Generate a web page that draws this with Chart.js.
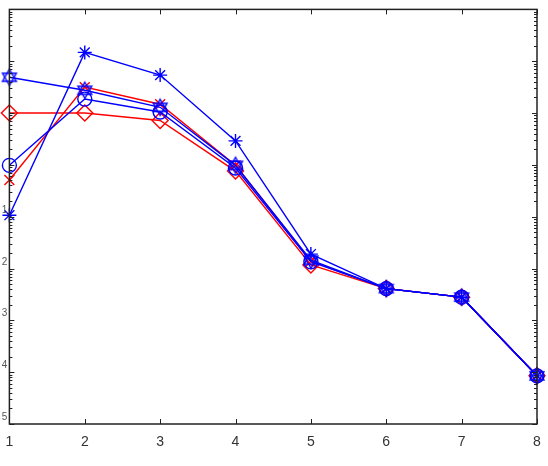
<!DOCTYPE html>
<html>
<head>
<meta charset="utf-8">
<script src="https://cdn.jsdelivr.net/npm/chart.js@4.4.0/dist/chart.umd.min.js"></script>
<style>
  html, body { margin: 0; padding: 0; background: #fff; }
  #wrap { width: 548px; height: 466px; }
</style>
</head>
<body>
<div id="wrap"><canvas id="chart" width="548" height="466"></canvas></div>
<script>
// === Données ===
const xLabels = [1, 2, 3, 4, 5, 6, 7, 8];
const starBlue = [0.107, 148, 54, 2.9, 0.019, 0.0041, 0.0028, 0.000085];
const hexBlue = [49, 27.5, 12.9, 0.98, 0.0145, 0.0041, 0.0028, 0.000085];
const circleBlue = [0.98, 18.6, 10.5, 0.87, 0.0135, 0.0041, 0.0028, 0.000085];
const crossRed = [0.51, 31.6, 14.8, 0.98, 0.0138, 0.0041, 0.0028, 0.000085];
const diamondRed = [10, 10, 7.2, 0.76, 0.0117, 0.0041, 0.0028, 0.000085];
const yExponents = [-5, -4, -3, -2, -1, 0, 1, 2, 3];
const yTickText = { "-1": "1", "-2": "2", "-3": "3", "-4": "4", "-5": "5" };

const BLUE = '#0000ff';
const RED = '#ff0000';

// === Marqueur hexagramme (étoile à six branches) ===
function makeHexagram(color, r) {
  const c = document.createElement('canvas');
  const s = Math.ceil(r * 2 + 4);
  c.width = s; c.height = s;
  const g = c.getContext('2d');
  g.strokeStyle = color;
  g.lineWidth = 1.4;
  const cx = s / 2, cy = s / 2;
  [-Math.PI / 2, Math.PI / 2].forEach((start) => {
    g.beginPath();
    for (let i = 0; i < 3; i++) {
      const a = start + i * 2 * Math.PI / 3;
      const px = cx + r * Math.cos(a), py = cy + r * Math.sin(a);
      if (i === 0) g.moveTo(px, py); else g.lineTo(px, py);
    }
    g.closePath();
    g.stroke();
  });
  return c;
}
const hexImg = makeHexagram(BLUE, 8);

function serie(data, color, style, radius) {
  return {
    data: data,
    borderColor: color,
    borderWidth: 1.4,
    pointStyle: style,
    pointRadius: radius,
    pointHoverRadius: radius,
    pointBorderColor: color,
    pointBorderWidth: 1.4,
    pointBackgroundColor: 'rgba(0,0,0,0)',
    backgroundColor: 'rgba(0,0,0,0)',
    tension: 0
  };
}

// === Ticks intérieurs, cadre et étiquettes y, façon MATLAB ===
const boxTicks = {
  id: 'boxTicks',
  afterDraw(chart) {
    const ctx = chart.ctx;
    const a = chart.chartArea;
    const ys = chart.scales.y, xs = chart.scales.x;
    ctx.save();
    ctx.strokeStyle = '#222';
    ctx.lineWidth = 1;
    ctx.fillStyle = '#555';
    ctx.font = '10px "Liberation Sans"';
    ctx.textAlign = 'right';
    ctx.textBaseline = 'middle';
    ys.ticks.forEach((t) => {
      const py = Math.round(ys.getPixelForValue(t.value)) + 0.5;
      const e = Math.log10(t.value);
      const major = Math.abs(e - Math.round(e)) < 1e-6;
      const len = major ? 5 : 3;
      ctx.beginPath();
      ctx.moveTo(a.left, py); ctx.lineTo(a.left + len, py);
      ctx.moveTo(a.right, py); ctx.lineTo(a.right - len, py);
      ctx.stroke();
      const txt = major ? yTickText[String(Math.round(e))] : null;
      if (txt) ctx.fillText(txt, a.left - 2, py - 7);
    });
    xs.ticks.forEach((t) => {
      const px = Math.round(xs.getPixelForValue(t.value)) + 0.5;
      ctx.beginPath();
      ctx.moveTo(px, a.bottom); ctx.lineTo(px, a.bottom - 5);
      ctx.moveTo(px, a.top); ctx.lineTo(px, a.top + 5);
      ctx.stroke();
    });
    ctx.lineWidth = 1.5;
    ctx.strokeRect(a.left, a.top, a.right - a.left, a.bottom - a.top);
    ctx.restore();
  }
};

new Chart(document.getElementById('chart'), {
  type: 'line',
  data: {
    labels: xLabels,
    datasets: [
      serie(starBlue, BLUE, 'star', 7),
      serie(hexBlue, BLUE, hexImg, 8),
      serie(circleBlue, BLUE, 'circle', 7),
      serie(crossRed, RED, 'crossRot', 7),
      serie(diamondRed, RED, 'rectRot', 8)
    ]
  },
  options: {
    responsive: false,
    animation: false,
    layout: { padding: { top: 9, right: 11, left: 0, bottom: 0 } },
    plugins: { legend: { display: false }, tooltip: { enabled: false } },
    scales: {
      x: {
        type: 'category',
        offset: false,
        grid: { display: false },
        border: { display: false },
        ticks: {
          color: '#333',
          padding: 2,
          font: { family: 'Liberation Sans', size: 14 }
        },
        afterFit(scale) { scale.height = 42; }
      },
      y: {
        type: 'logarithmic',
        min: 1e-5,
        max: 1e3,
        grid: { display: false },
        border: { display: false },
        afterBuildTicks(scale) {
          const ticks = [];
          yExponents.forEach((e) => {
            for (let m = 1; m <= 9; m++) {
              if (e === 3 && m > 1) break;
              ticks.push({ value: m * Math.pow(10, e) });
            }
          });
          scale.ticks = ticks;
        },
        ticks: { display: false },
        afterFit(scale) { scale.width = 9; }
      }
    }
  },
  plugins: [boxTicks]
});
</script>
</body>
</html>
